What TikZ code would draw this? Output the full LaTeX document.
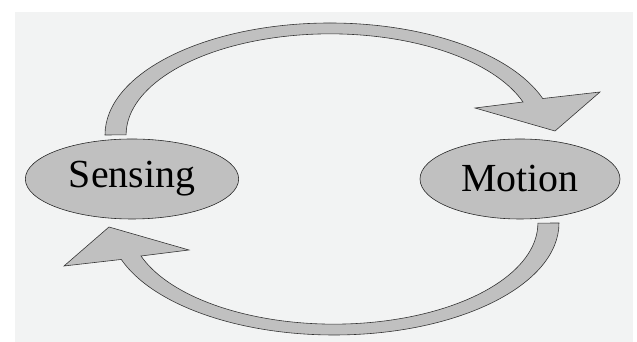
\documentclass[tikz,border=0pt]{standalone}
\usepackage{fontspec}
\setmainfont{Liberation Serif}
\usepackage{tikz}
\usetikzlibrary{positioning,shapes.geometric}

\definecolor{bggray}{HTML}{F2F3F3}
\definecolor{shapegray}{HTML}{C0C0C0}

\tikzset{
  loopnode/.style={ellipse, draw=black!85, fill=shapegray, line width=0.5pt,
    minimum width=#1, minimum height=24mm, inner sep=0pt,
    font=\fontsize{34}{34}\selectfont},
  looparrow/.style={draw=black!80, fill=shapegray, line width=0.5pt, line join=miter}
}

\begin{document}
\begin{tikzpicture}[x=0.3mm, y=0.3mm]
        \useasboundingbox (0,0) rectangle (637,342);
        \fill[bggray] (15,0) rectangle (633,330);
        \def\toparrow{(105,207) arc[start angle=180, end angle=19, x radius=225, y radius=112]
            -- (600,250) -- (555,211) -- (475,234)
            -- (523,240) arc[start angle=19, end angle=180, x radius=204, y radius=101] -- cycle}
          \node[loopnode=64mm] (sensing) at (132,163) {Sensing};
          \node[loopnode=60mm] (motion) at (520,163) {Motion};
             \draw[looparrow] \toparrow;
             \begin{scope}[rotate around={180:(332,163)}]
                \draw[looparrow] \toparrow;
            \end{scope}
        \end{tikzpicture}
\end{document}
